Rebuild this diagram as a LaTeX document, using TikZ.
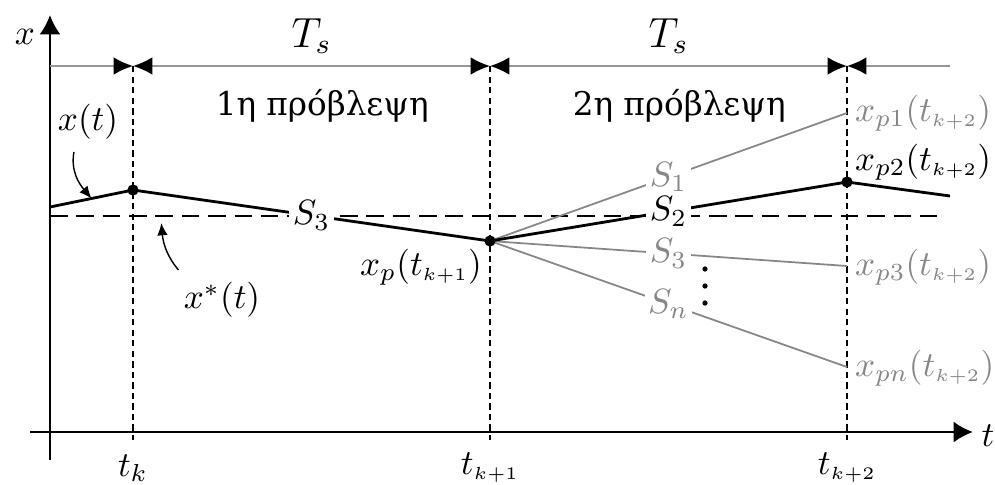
\documentclass[tikz,border=0pt]{standalone}
\usepackage{fontspec}
\newfontfamily\grtext{DejaVu Serif}
\usetikzlibrary{arrows.meta,positioning}
\definecolor{fade}{RGB}{135,135,135}
\definecolor{rule}{RGB}{150,150,150}
\newcommand{\sk}[1]{{\scriptscriptstyle #1}}

\begin{document}
\begin{tikzpicture}[x=0.1mm,y=0.1mm,font=\fontsize{10}{12}\selectfont,
  axis/.style={line width=0.8pt,-{Latex[length=5.5pt,width=6pt]}},
  grid/.style={line width=0.6pt,dash pattern=on 1.8pt off 1.2pt},
  ref/.style={line width=0.7pt,dash pattern=on 5pt off 2.5pt},
  span/.style={draw=rule,line width=0.5pt},
  dimtip/.tip={Latex[length=5.5pt,width=5pt,color=black]},
  traj/.style={line width=0.8pt},
  alt/.style={fade,line width=0.5pt},
  tag/.style={inner sep=1pt,fill=white},
  endlab/.style={anchor=west,inner sep=1pt},
  pred/.style={font=\grtext\fontsize{9.3}{11}\selectfont},
  dot/.style={circle,fill,inner sep=0pt,minimum size=3.2pt},
  note/.style={-{Latex[length=3.5pt,width=3pt]},line width=0.4pt}]
\useasboundingbox (-50,-52) rectangle (945,432);

\coordinate (O) at (0,0);
\draw[axis] (-20,0) -- (923,0);
\draw[axis] (0,-28) -- (0,417);
\node[anchor=west,inner sep=0pt] (lt) at (931,-4) {$t$};
\node (lx) at (-25,395) {$x$};

\foreach \n/\x/\l in {a/83/t_k,b/440/t_{\sk{k+1}},c/797/t_{\sk{k+2}}}{
  \coordinate (top\n) at (\x,366);
  \coordinate (foot\n) at (\x,-8);
  \draw[grid] (top\n) -- (foot\n);
  \node (t\n) at (\x,-36) {$\l$};
}
\coordinate (top0) at (0,366);
\coordinate (topz) at (900,366);
\draw[span,-dimtip] (top0) -- (topa);
\draw[span,dimtip-dimtip] (topa) -- node[above,font=\large] (ts1) {$T_s$}
  node[pos=0.53,below=3pt,pred] (pr1) {1η πρόβλεψη} (topb);
\draw[span,dimtip-dimtip] (topb) -- node[above,font=\large] (ts2) {$T_s$}
  node[pos=0.53,below=3pt,pred] (pr2) {2η πρόβλεψη} (topc);
\draw[span,dimtip-] (topc) -- (topz);

\coordinate (r0) at (0,216);
\coordinate (rz) at (893,216);
\draw[ref] (r0) -- coordinate[pos=0.124] (mxs) (rz);

\coordinate (x0) at (0,225);
\coordinate (pk) at (83,242);
\coordinate (pk1) at (440,191);
\coordinate (e1) at (797,319);
\coordinate (e2) at (797,250);
\coordinate (e3) at (797,166);
\coordinate (en) at (797,65);
\coordinate (ez) at (900,236);

\draw[alt] (pk1) -- node[tag,text=fade] (s1) {$S_1$} (e1);
\draw[alt] (pk1) -- node[tag,text=fade] (s3b) {$S_3$} (e3);
\draw[alt] (pk1) -- node[tag,text=fade] (sn) {$S_n$} (en);
\draw[traj] (x0) -- coordinate[pos=0.5] (mxt) (pk) -- node[tag] (s3a) {$S_3$} (pk1);
\draw[traj] (pk1) -- node[tag] (s2) {$S_2$} (e2) -- (ez);
\foreach \p in {pk,pk1,e2} \node[dot] at (\p) {};
\foreach \d in {-17,0,17} \fill (655,146+\d) circle (0.75pt);

\node[anchor=east,inner sep=1pt] (lxp) at (436,165) {$x_p(t_{\sk{k+1}})$};
\node[endlab,text=fade] (lp1) at (801,319) {$x_{p1}(t_{\sk{k+2}})$};
\node[endlab] (lp2) at (801,270) {$x_{p2}(t_{\sk{k+2}})$};
\node[endlab,text=fade] (lp3) at (801,165) {$x_{p3}(t_{\sk{k+2}})$};
\node[endlab,text=fade] (lpn) at (801,64) {$x_{pn}(t_{\sk{k+2}})$};

\node (lxt) at (38,310) {$x(t)$};
\node (lxs) at (172,132) {$x^*(t)$};
\draw[note] ([xshift=-4pt]lxt.south) to[out=-100,in=130] (mxt);
\draw[note,shorten >=2pt] ([xshift=2pt]lxs.north west) to[out=130,in=-85] (mxs);
\end{tikzpicture}
\end{document}
